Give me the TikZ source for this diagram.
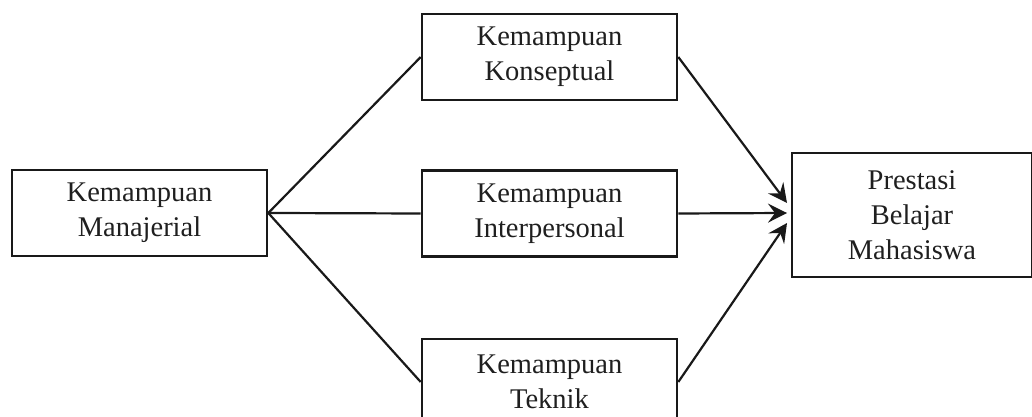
\documentclass[tikz,border=0pt]{standalone}
\usepackage{fontspec}
\setmainfont{Liberation Serif}
\usetikzlibrary{arrows.meta}
\begin{document}
\begin{tikzpicture}[x=1pt,y=1pt,
  box/.style={draw=black!90, line width=2.6pt, rectangle, minimum width=255pt, minimum height=86pt, align=center, inner sep=0pt,
    font=\fontsize{28.5}{35}\selectfont, text=black!88},
  conn/.style={line width=2.2pt, draw=black!90},
  arr/.style={conn, -{Stealth[length=19pt,width=19pt,inset=7pt]}}]
\useasboundingbox (0,0) rectangle (1032,417);
\clip (0,0) rectangle (1032,417);
\node[box] (man) at (139.5,204) {Kemampuan\\Manajerial};
\node[box] (kon) at (549.5,360) {Kemampuan\\Konseptual};
\node[box] (int) at (549.5,203.5) {Kemampuan\\Interpersonal};
\node[box] (tek) at (549.5,35) {Kemampuan\\Teknik};
\node[box, minimum width=240pt, minimum height=124pt] (pre) at (912,202) {Prestasi\\Belajar\\Mahasiswa};
\coordinate (t1) at (787,214);
\coordinate (t2) at (787,204);
\coordinate (t3) at (787,194);
\draw[conn] (man.east) -- (kon.west);
\draw[conn] (man.east) -- (int.west);
\draw[conn] (man.east) -- (tek.west);
\draw[arr] (kon.east) -- (t1);
\draw[arr] (int.east) -- (t2);
\draw[arr] (tek.east) -- (t3);
\end{tikzpicture}
\end{document}
